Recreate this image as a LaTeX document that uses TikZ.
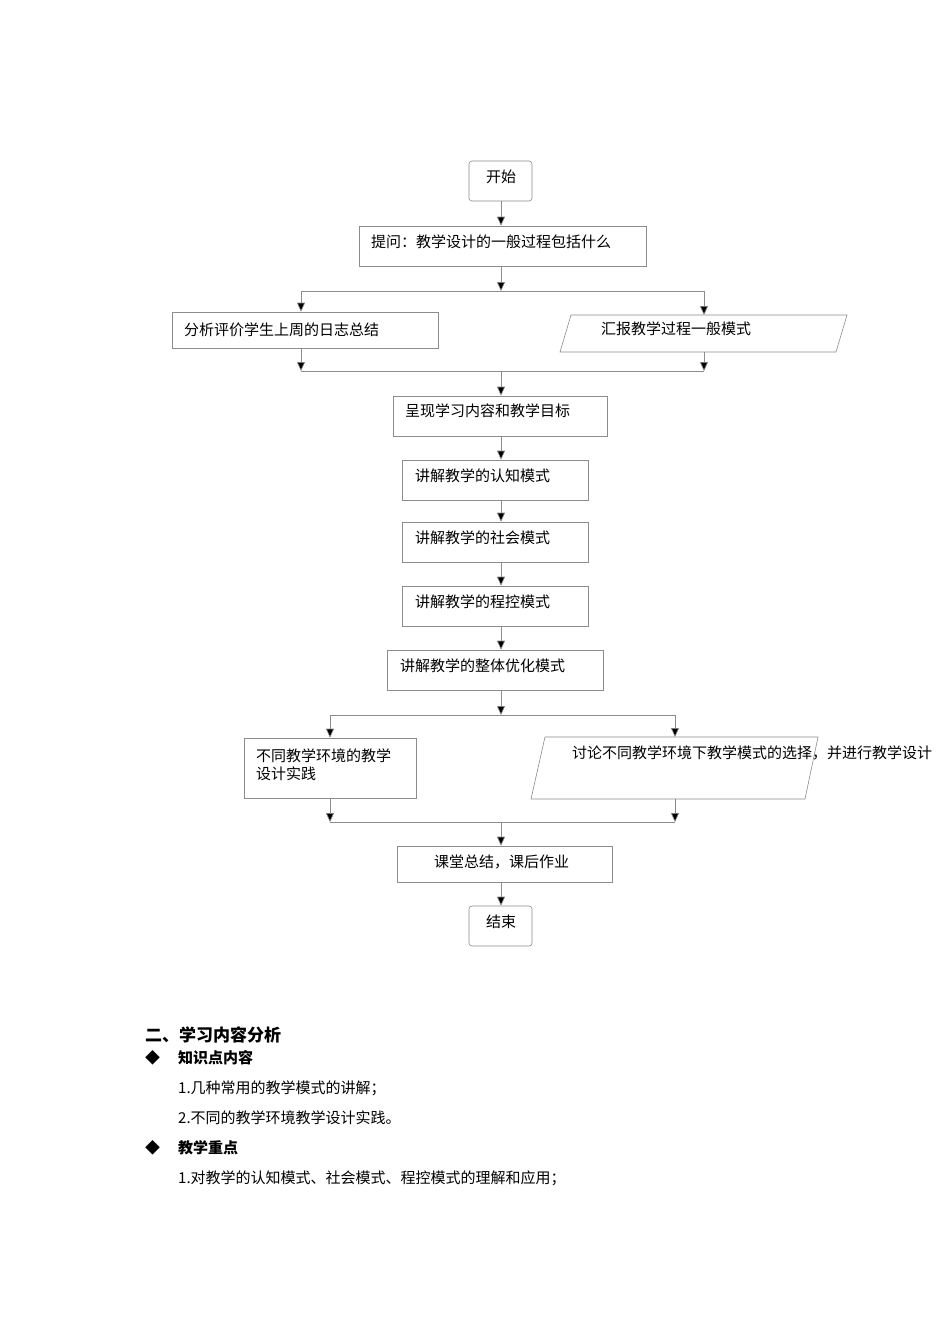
\documentclass[tikz,border=0pt]{standalone}
\usepackage{fontspec}
\setmainfont{Noto Sans CJK SC}
\usetikzlibrary{arrows.meta}
\tikzset{
  box/.style={draw=black!45, line width=0.6pt, inner sep=0pt},
  rbox/.style={box, rounded corners=3pt},
  txt/.style={anchor=west, inner sep=0pt, font=\fontsize{15}{18}\selectfont},
  ln/.style={draw=black!45, line width=0.6pt},
  arr/.style={ln, -{Triangle[width=8pt,length=9pt,fill=black]}},
}
\begin{document}
\begin{tikzpicture}[x=1pt,y=-1pt]
\useasboundingbox[fill=white] (0,0) rectangle (950,1344);
% start
\node[rbox, minimum width=63, minimum height=40] (start) at (500.5,181) {};
\node[txt] at (486,177) {开始};
\node[box, minimum width=287, minimum height=40] (ask) at (502.5,246) {};
\node[txt] at (371,242) {提问：教学设计的一般过程包括什么};
\draw[arr] (start.south -| 501,0) -- (ask.north -| 501,0);
\coordinate (s1) at (501,291);
\coordinate (s1l) at (301,291);
\coordinate (s1r) at (704,291);
\draw[arr] (ask.south -| 501,0) -- (s1);
\draw[ln] (s1l) -- (s1r);
\node[box, minimum width=266, minimum height=36] (left1) at (305,330) {};
\node[txt] at (184,330) {分析评价学生上周的日志总结};
\coordinate (p1a) at (571,315); \coordinate (p1b) at (847,315);
\coordinate (p1c) at (836,352); \coordinate (p1d) at (560,352);
\draw[ln] (p1a) -- (p1b) -- (p1c) -- (p1d) -- cycle;
\node[txt] at (601,329) {汇报教学过程一般模式};
\coordinate (r1t) at (704,315); \coordinate (r1b) at (704,352);
\draw[arr] (s1l) -- (left1.north -| s1l);
\draw[arr] (s1r) -- (r1t);
\coordinate (m1l) at (301,371); \coordinate (m1r) at (704,371); \coordinate (m1) at (501,371);
\draw[arr] (left1.south -| m1l) -- (m1l);
\draw[arr] (r1b) -- (m1r);
\draw[ln] (m1l) -- (m1r);
\node[box, minimum width=214, minimum height=40] (show) at (500,416) {};
\node[txt] at (405,411) {呈现学习内容和教学目标};
\draw[arr] (m1) -- (show.north -| m1);
\node[box, minimum width=186, minimum height=40] (m2) at (495,480) {};
\node[txt] at (415,476) {讲解教学的认知模式};
\node[box, minimum width=186, minimum height=40] (m3) at (495,542) {};
\node[txt] at (415,538) {讲解教学的社会模式};
\node[box, minimum width=186, minimum height=40] (m4) at (495,606) {};
\node[txt] at (415,602) {讲解教学的程控模式};
\node[box, minimum width=216, minimum height=40] (m5) at (495,670) {};
\node[txt] at (400,666) {讲解教学的整体优化模式};
\draw[arr] (show.south -| m1) -- (m2.north -| m1);
\draw[arr] (m2.south -| m1) -- (m3.north -| m1);
\draw[arr] (m3.south -| m1) -- (m4.north -| m1);
\draw[arr] (m4.south -| m1) -- (m5.north -| m1);
\coordinate (s2) at (501,715); \coordinate (s2l) at (330,715); \coordinate (s2r) at (675,715);
\draw[arr] (m5.south -| m1) -- (s2);
\draw[ln] (s2l) -- (s2r);
\node[box, minimum width=172, minimum height=60] (left2) at (330,768) {};
\node[txt, align=left] at (256,765) {不同教学环境的教学\\设计实践};
\coordinate (p2a) at (545,737); \coordinate (p2b) at (818,737);
\coordinate (p2c) at (805,799); \coordinate (p2d) at (531,799);
\draw[ln] (p2a) -- (p2b) -- (p2c) -- (p2d) -- cycle;
\node[txt] at (572,753) {讨论不同教学环境下教学模式的选择，并进行教学设计};
\coordinate (r2t) at (675,737); \coordinate (r2b) at (675,799);
\draw[arr] (s2l) -- (left2.north -| s2l);
\draw[arr] (s2r) -- (r2t);
\coordinate (m6l) at (330,822); \coordinate (m6r) at (675,822); \coordinate (m6) at (501,822);
\draw[arr] (left2.south -| m6l) -- (m6l);
\draw[arr] (r2b) -- (m6r);
\draw[ln] (m6l) -- (m6r);
\node[box, minimum width=215, minimum height=36] (sum) at (504.5,864) {};
\node[txt] at (434,862) {课堂总结，课后作业};
\draw[arr] (m6) -- (sum.north -| m6);
\node[rbox, minimum width=63, minimum height=40] (end) at (500.5,926) {};
\node[txt] at (486,922) {结束};
\draw[arr] (sum.south -| m6) -- (end.north -| m6);
% text section
\node[txt, font=\fontsize{17}{20}\selectfont\bfseries] (h) at (145,1035) {二、学习内容分析};
\node[txt, font=\fontsize{15}{18}\selectfont\bfseries] (b1) at (145,1058) {◆\hspace{18pt}知识点内容};
\node[txt] (i1) at (178,1088) {1.几种常用的教学模式的讲解；};
\node[txt] (i2) at (178,1118) {2.不同的教学环境教学设计实践。};
\node[txt, font=\fontsize{15}{18}\selectfont\bfseries] (b2) at (145,1148) {◆\hspace{18pt}教学重点};
\node[txt] (i3) at (178,1178) {1.对教学的认知模式、社会模式、程控模式的理解和应用；};
\end{tikzpicture}
\end{document}
